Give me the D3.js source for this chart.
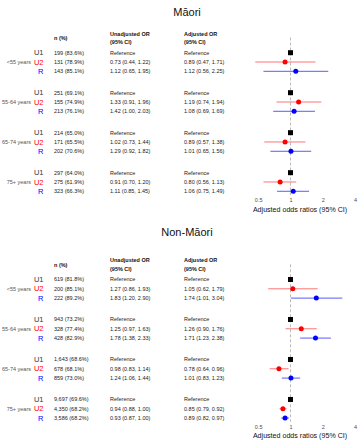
<!DOCTYPE html>
<html><head><meta charset="utf-8">
<script src="https://cdn.jsdelivr.net/npm/d3@7"></script>
<style>body{margin:0;background:#fff}svg{display:block;font-family:"Liberation Sans",Arial,sans-serif}</style>
</head><body>
<script>
const panelTitles = ["Māori", "Non-Māori"];
const ageGroups = ["<55 years", "55-64 years", "65-74 years", "75+ years"];
const exposures = ["U1", "U2", "R"];
const tickValues = [0.5, 1, 2, 4];
const tickLabels = ["0.5", "1", "2", "4"];

// Māori (rows: per age group U1, U2, R)
const maoriN   = [199,131,143, 251,155,213, 214,171,202, 297,275,323];
const maoriPct = [83.6,78.9,85.1, 69.1,74.9,76.1, 65.0,65.5,70.6, 64.0,61.9,66.3];
const maoriUnadjOR = [1,0.73,1.12, 1,1.33,1.42, 1,1.02,1.29, 1,0.91,1.11];
const maoriUnadjLo = [1,0.44,0.65, 1,0.91,1.00, 1,0.73,0.92, 1,0.70,0.85];
const maoriUnadjHi = [1,1.22,1.95, 1,1.96,2.03, 1,1.44,1.82, 1,1.20,1.45];
const maoriAdjOR = [1,0.89,1.12, 1,1.19,1.08, 1,0.89,1.01, 1,0.80,1.06];
const maoriAdjLo = [1,0.47,0.56, 1,0.74,0.69, 1,0.57,0.65, 1,0.56,0.75];
const maoriAdjHi = [1,1.71,2.25, 1,1.94,1.69, 1,1.38,1.56, 1,1.13,1.49];

// Non-Māori
const nonMaoriN   = [619,200,222, 943,328,428, 1643,678,859, 9697,4350,3586];
const nonMaoriPct = [81.8,85.1,89.2, 73.2,77.4,82.9, 68.6,68.1,73.0, 69.6,68.2,68.2];
const nonMaoriUnadjOR = [1,1.27,1.83, 1,1.25,1.78, 1,0.98,1.24, 1,0.94,0.93];
const nonMaoriUnadjLo = [1,0.86,1.20, 1,0.97,1.38, 1,0.83,1.06, 1,0.88,0.87];
const nonMaoriUnadjHi = [1,1.93,2.90, 1,1.63,2.33, 1,1.14,1.44, 1,1.00,1.00];
const nonMaoriAdjOR = [1,1.05,1.74, 1,1.26,1.71, 1,0.78,1.01, 1,0.85,0.89];
const nonMaoriAdjLo = [1,0.62,1.01, 1,0.90,1.23, 1,0.64,0.83, 1,0.79,0.82];
const nonMaoriAdjHi = [1,1.79,3.04, 1,1.76,2.38, 1,0.96,1.23, 1,0.92,0.97];

const panels = [
  {title: panelTitles[0], n: maoriN, pct: maoriPct, uo: maoriUnadjOR, ul: maoriUnadjLo, uh: maoriUnadjHi, ao: maoriAdjOR, al: maoriAdjLo, ah: maoriAdjHi},
  {title: panelTitles[1], n: nonMaoriN, pct: nonMaoriPct, uo: nonMaoriUnadjOR, ul: nonMaoriUnadjLo, uh: nonMaoriUnadjHi, ao: nonMaoriAdjOR, al: nonMaoriAdjLo, ah: nonMaoriAdjHi}
];

const W = 358, H = 440;
const colors = {U1: "#000000", U2: "#ff0000", R: "#0000ff"};
const labelColors = {U1: "#333333", U2: "#ff0000", R: "#0000ff"};
const lineColors = {U2: "rgba(255,0,0,0.55)", R: "rgba(0,0,255,0.65)"};

const svg = d3.select("body").append("svg").attr("width", W).attr("height", H);
const x = d3.scaleLog().domain([0.5, 4]).range([258.2, 355.1]);
const fmtN = d3.format(",");
const f2 = v => v.toFixed(2);
const orText = (o, l, h, i) => (i % 3 === 0) ? "Reference" : `${f2(o)} (${f2(l)}, ${f2(h)})`;

const panelOffsets = [0, 226.8];
const titleY = [15.5, 9.2];
panels.forEach((p, pi) => {
  const g = svg.append("g").attr("transform", `translate(0,${panelOffsets[pi]})`);
  // row y scale: slot = group*4.3 + row
  const y = d3.scaleLinear().domain([0, 1]).range([52.7, 62.0]);
  const slot = i => Math.floor(i / 3) * 4.3 + (i % 3);

  g.append("text").attr("x", 187).attr("y", titleY[pi]).attr("text-anchor", "middle")
    .attr("font-size", 11).attr("fill", "#111").text(p.title);

  const hdr = g.append("g").attr("font-size", 5.5).attr("font-weight", "bold").attr("fill", "#111");
  hdr.append("text").attr("x", 54).attr("y", 40).text("n (%)");
  hdr.append("text").attr("x", 110).attr("y", 35.7).text("Unadjusted OR");
  hdr.append("text").attr("x", 110).attr("y", 44.3).text("(95% CI)");
  hdr.append("text").attr("x", 184).attr("y", 35.7).text("Adjusted OR");
  hdr.append("text").attr("x", 184).attr("y", 44.3).text("(95% CI)");

  // dashed reference line
  g.append("line").attr("x1", x(1)).attr("x2", x(1)).attr("y1", 37.5).attr("y2", 195)
    .attr("stroke", "#aaaaaa").attr("stroke-width", 0.8).attr("stroke-dasharray", "3,2");

  // age labels
  ageGroups.forEach((a, gi) => {
    g.append("text").attr("x", 31).attr("y", y(slot(gi * 3 + 1)) + 2).attr("text-anchor", "end")
      .attr("font-size", 5.5).attr("fill", "#555").text(a);
  });

  const rows = d3.range(12);
  rows.forEach(i => {
    const e = exposures[i % 3];
    const yy = y(slot(i));
    g.append("text").attr("x", 43.5).attr("y", yy + 2.7).attr("text-anchor", "end")
      .attr("font-size", 7.5).attr("fill", labelColors[e]).text(e);
    g.append("text").attr("x", 54).attr("y", yy + 2).attr("font-size", 5.5).attr("fill", "#222")
      .text(`${fmtN(p.n[i])} (${p.pct[i].toFixed(1)}%)`);
    g.append("text").attr("x", 110).attr("y", yy + 2).attr("font-size", 5.5).attr("fill", "#222")
      .text(orText(p.uo[i], p.ul[i], p.uh[i], i));
    g.append("text").attr("x", 184).attr("y", yy + 2).attr("font-size", 5.5).attr("fill", "#222")
      .text(orText(p.ao[i], p.al[i], p.ah[i], i));
    if (i % 3 === 0) {
      g.append("rect").attr("x", x(p.ao[i]) - 2.5).attr("y", yy - 2.5).attr("width", 5).attr("height", 5)
        .attr("fill", "#000");
    } else {
      g.append("line").attr("x1", x(p.al[i])).attr("x2", x(p.ah[i])).attr("y1", yy).attr("y2", yy)
        .attr("stroke", lineColors[e]).attr("stroke-width", 1);
      g.append("circle").attr("cx", x(p.ao[i])).attr("cy", yy).attr("r", 2.5).attr("fill", colors[e]);
    }
  });

  const axis = d3.axisBottom(x).tickValues(tickValues).tickFormat((d, i) => tickLabels[i]).tickSize(0).tickPadding(0);
  const ag = g.append("g").attr("transform", "translate(0,199.8)").call(axis);
  ag.select(".domain").remove();
  ag.selectAll("text").attr("font-size", 5.5).attr("fill", "#4d4d4d").attr("font-family", "Liberation Sans, Arial, sans-serif").attr("dy", "0.35em").attr("y", 0);
  g.append("text").attr("x", 300).attr("y", 211.6).attr("text-anchor", "middle")
    .attr("font-size", 7.1).attr("fill", "#111").text("Adjusted odds ratios (95% CI)");
});
</script>
</body></html>
